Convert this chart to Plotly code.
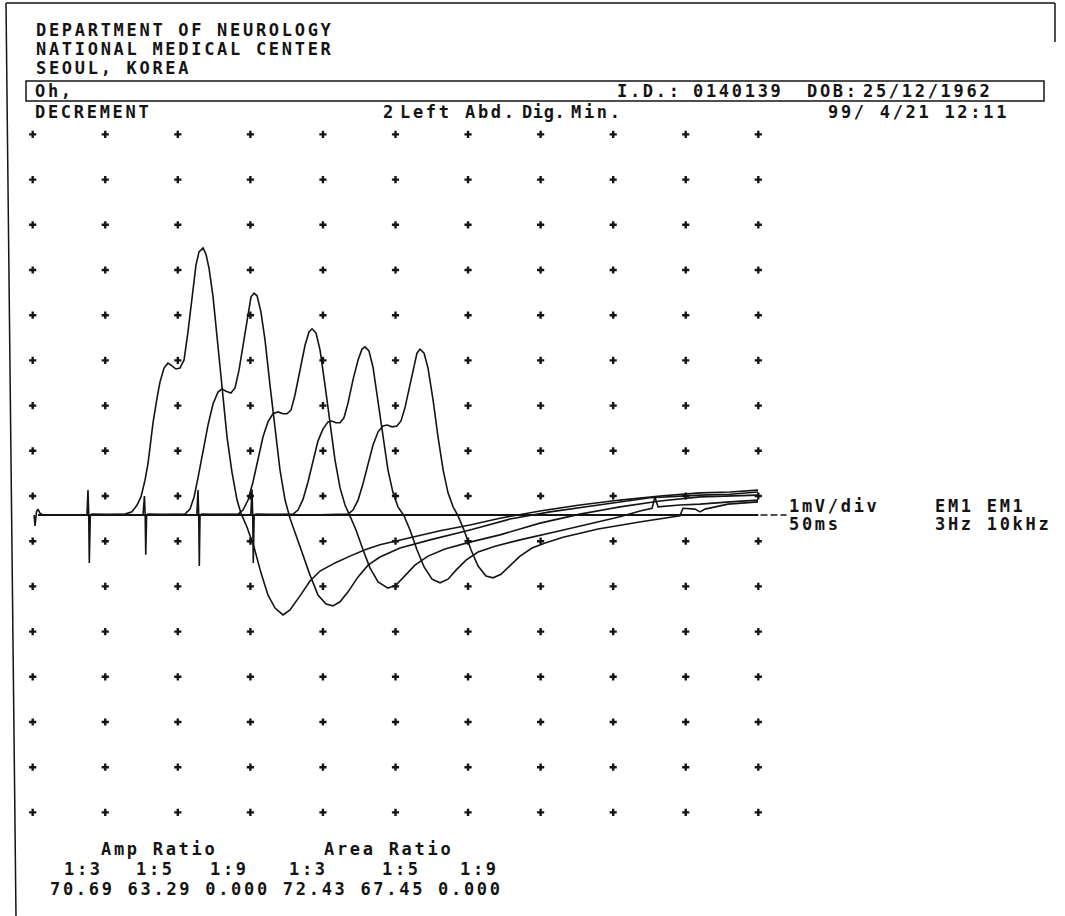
import plotly.graph_objects as go

# ---------------- data ----------------
# sweep: 10 div x 5 ms ; sensitivity 1 mV/div
SWEEP_MS = 50
DIV_MS = 5
DIV_MV = 1
N_COLS = 11
N_ROWS = 16
ROW_TOP_MV = 8.42          # level of top row of grid crosses relative to baseline

# Five superimposed CMAP responses (3 Hz repetitive stimulation), time in ms, amplitude in mV
t1 = [0.10, 0.16, 0.26, 0.36, 0.50, 0.71, 4.64, 6.36, 6.84, 7.19, 7.46, 7.74, 7.95,
      8.29, 8.57, 8.77, 9.05, 9.32, 9.60, 9.87, 10.15, 10.43, 10.70, 10.98, 11.25, 11.46, 11.74,
      11.94, 12.15, 12.43, 12.77, 13.04, 13.39, 13.73, 14.08, 14.35, 14.77, 15.25, 15.73, 16.21, 16.70,
      17.25, 17.73, 18.42, 19.11, 19.80, 20.83, 21.86, 22.90, 23.93, 26.00, 28.07, 30.13, 32.20, 34.96,
      37.71, 40.47, 43.23, 45.98, 48.05, 49.98]
v1 = [0, -0.24, 0.07, 0.13, 0.04, 0, 0, 0.02, 0.07, 0.22, 0.40, 0.77, 1.15,
      2.04, 2.59, 2.94, 3.25, 3.36, 3.30, 3.23, 3.25, 3.43, 4.05, 4.82, 5.53, 5.82, 5.91,
      5.77, 5.46, 4.82, 3.72, 2.76, 1.73, 0.95, 0.33, 0.04, -0.27, -0.71, -1.28, -1.77, -2.06,
      -2.21, -2.10, -1.79, -1.46, -1.24, -1.06, -0.91, -0.77, -0.66, -0.51, -0.35, -0.22, -0.07, 0.09,
      0.22, 0.33, 0.42, 0.49, 0.51, 0.55]

t2 = [3.74, 3.81, 3.86, 3.90, 3.97, 4.09, 8.08, 10.49, 10.84, 11.12, 11.39, 11.74, 12.08,
      12.43, 12.77, 13.04, 13.32, 13.66, 13.94, 14.22, 14.56, 14.84, 15.04, 15.25, 15.46, 15.73, 16.01,
      16.35, 16.70, 17.04, 17.39, 17.73, 18.07, 18.56, 19.11, 19.66, 20.21, 20.69, 21.18, 21.73, 22.42,
      23.11, 23.93, 25.31, 27.38, 30.13, 32.89, 35.65, 39.09, 42.54, 45.98, 48.05, 49.98]
v2 = [0, 0.55, 0, -1.06, 0, 0.02, 0, 0.02, 0.13, 0.40, 0.82, 1.44, 1.99,
      2.46, 2.72, 2.79, 2.74, 2.70, 2.81, 3.21, 3.87, 4.49, 4.82, 4.91, 4.85, 4.49, 3.87,
      2.88, 1.88, 1.00, 0.33, -0.07, -0.38, -0.82, -1.33, -1.77, -1.97, -2.01, -1.92, -1.70, -1.37,
      -1.11, -0.93, -0.73, -0.55, -0.33, -0.09, 0.07, 0.22, 0.38, 0.44, 0.46, 0.51]

t3 = [7.60, 7.70, 7.75, 7.79, 7.85, 7.95, 11.54, 14.15, 14.49, 14.84, 15.18, 15.53, 15.87,
      16.21, 16.56, 16.90, 17.25, 17.52, 17.80, 18.07, 18.42, 18.77, 19.04, 19.25, 19.52, 19.80, 20.14,
      20.49, 20.83, 21.18, 21.52, 21.86, 22.28, 22.76, 23.24, 23.80, 24.48, 25.04, 25.65, 26.34, 27.24,
      28.41, 30.13, 32.20, 34.96, 37.71, 40.47, 43.23, 45.98, 48.05, 49.98]
v3 = [0, 0.42, 0, -0.88, 0, 0.02, 0, 0.02, 0.11, 0.33, 0.73, 1.26, 1.73,
      2.06, 2.24, 2.28, 2.24, 2.24, 2.32, 2.65, 3.21, 3.76, 4.05, 4.12, 4.03, 3.65, 2.88,
      1.99, 1.22, 0.60, 0.22, -0.02, -0.33, -0.77, -1.17, -1.48, -1.62, -1.55, -1.35, -1.11, -0.91,
      -0.75, -0.60, -0.44, -0.18, 0.02, 0.18, 0.31, 0.40, 0.42, 0.44]

t4 = [11.31, 11.39, 11.44, 11.48, 11.53, 11.66, 15.66, 17.94, 18.28, 18.63, 18.97, 19.32, 19.66,
      20.00, 20.35, 20.62, 20.90, 21.18, 21.45, 21.73, 22.07, 22.42, 22.69, 22.90, 23.17, 23.45, 23.79,
      24.14, 24.48, 24.83, 25.17, 25.59, 26.00, 26.48, 26.97, 27.52, 28.07, 28.62, 29.17, 29.86, 30.69,
      31.86, 33.58, 36.34, 39.09, 40.47, 41.85, 42.68, 42.88, 43.09, 44.60, 45.98, 48.05, 49.98]
v4 = [0, 0.55, 0, -1.13, 0, 0.02, 0, 0.02, 0.11, 0.35, 0.73, 1.19, 1.64,
      1.90, 2.06, 2.08, 2.04, 2.04, 2.15, 2.48, 2.99, 3.43, 3.67, 3.72, 3.63, 3.27, 2.54,
      1.73, 1.00, 0.49, 0.18, -0.02, -0.33, -0.77, -1.15, -1.42, -1.50, -1.42, -1.22, -1.00, -0.82,
      -0.69, -0.55, -0.35, -0.15, -0.04, 0.09, 0.15, 0.40, 0.18, 0.22, 0.24, 0.29, 0.33]

t5 = [15.03, 15.11, 15.16, 15.20, 15.26, 15.39, 19.11, 21.73, 22.07, 22.42, 22.76, 23.11, 23.45,
      23.80, 24.14, 24.42, 24.76, 25.10, 25.38, 25.65, 26.00, 26.28, 26.48, 26.69, 26.97, 27.24, 27.59,
      27.93, 28.28, 28.62, 28.97, 29.31, 29.72, 30.20, 30.69, 31.24, 31.72, 32.27, 32.89, 33.58, 34.41,
      35.31, 36.55, 38.96, 41.92, 44.33, 44.60, 44.81, 45.64, 45.98, 46.33, 47.91, 49.98]
v5 = [0, 0.57, 0, -1.06, 0, 0.02, 0, 0.02, 0.11, 0.33, 0.69, 1.15, 1.55,
      1.84, 1.97, 1.99, 1.95, 1.97, 2.08, 2.37, 2.88, 3.34, 3.58, 3.67, 3.58, 3.25, 2.54,
      1.73, 1.00, 0.49, 0.18, -0.02, -0.33, -0.77, -1.13, -1.35, -1.39, -1.31, -1.11, -0.91, -0.73,
      -0.62, -0.49, -0.31, -0.15, -0.04, -0.02, 0.15, 0.13, 0.07, 0.13, 0.24, 0.29]

TRACES_T = [t1, t2, t3, t4, t5]
TRACES_V = [v1, v2, v3, v4, v5]

ratio_labels = ["1:3", "1:5", "1:9", "1:3", "1:5", "1:9"]
amp_ratio_values = ["70.69", "63.29", "0.000"]
area_ratio_values = ["72.43", "67.45", "0.000"]

# ---------------- figure ----------------
W, H = 1065, 916
INK = "#141414"
FONT = "DejaVu Sans Mono"

fig = go.Figure()

# grid of crosses (one per division)
gx, gy = [], []
for r in range(N_ROWS):
    for c in range(N_COLS):
        gx.append(c * DIV_MS)
        gy.append(ROW_TOP_MV - r * DIV_MV)
fig.add_trace(go.Scatter(x=gx, y=gy, mode="markers",
                         marker=dict(symbol="cross", size=6, color=INK, line=dict(width=0)),
                         hoverinfo="skip"))

# baseline reference and its dashed marker to the right
fig.add_trace(go.Scatter(x=[0.36, SWEEP_MS], y=[0, 0], mode="lines",
                         line=dict(color=INK, width=1.8), hoverinfo="skip"))
fig.add_trace(go.Scatter(x=[SWEEP_MS + 0.15, SWEEP_MS + 1.95], y=[0, 0], mode="lines",
                         line=dict(color=INK, width=1.4, dash="7px,3px"), hoverinfo="skip"))

for tt, vv in zip(TRACES_T, TRACES_V):
    fig.add_trace(go.Scatter(x=tt, y=vv, mode="lines",
                             line=dict(color=INK, width=1.6), hoverinfo="skip"))

# axis ranges so that 1 div = 72.6 px horizontally, 45.2 px vertically
PX_PER_MS = 72.56 / DIV_MS
PX_PER_MV = 45.2 / DIV_MV
X0_PX, BASE_PX = 32.7, 515.0
xr = [-X0_PX / PX_PER_MS, (W - X0_PX) / PX_PER_MS]
yr = [-(H - BASE_PX) / PX_PER_MV, BASE_PX / PX_PER_MV]


def P(x, y):
    return x / W, 1 - y / H


def label(text, x, y, ls=2.7, size=17):
    px_, py_ = P(x, y)
    fig.add_annotation(
        text='<span style="letter-spacing:%.1fpx"><b>%s</b></span>' % (ls, text),
        x=px_, y=py_, xref="paper", yref="paper", xanchor="left", yanchor="middle",
        showarrow=False, borderpad=0,
        font=dict(family=FONT, size=size, color=INK))


# header
label("DEPARTMENT OF NEUROLOGY", 35, 30)
label("NATIONAL MEDICAL CENTER", 35, 49)
label("SEOUL, KOREA", 35, 68)
label("Oh,", 34, 91)
label("I.D.:", 616, 91)
label("0140139", 692, 91)
label("DOB:", 806, 91)
label("25/12/1962", 862, 91)
label("DECREMENT", 34, 112)
label("2", 382, 112)
label("Left", 399, 112)
label("Abd.", 464, 112)
label("Dig.", 521, 112, ls=0.6)
label("Min.", 570, 112)
label("99/ 4/21 12:11", 827, 112)

# right side settings
label("1mV/div", 788, 506)
label("50ms", 788, 524)
label("EM1 EM1", 934, 506)
label("3Hz 10kHz", 934, 524)

# bottom ratios
label("Amp Ratio", 100, 849)
label("Area Ratio", 323, 849)
for lab, xx in zip(ratio_labels, [63, 135, 209, 288, 381, 459]):
    label(lab, xx, 869)
label(" ".join(amp_ratio_values + area_ratio_values), 49, 889)

# page border and patient box
def seg(x0, y0, x1, y1, w=1.5):
    a0, b0 = P(x0, y0)
    a1, b1 = P(x1, y1)
    fig.add_shape(type="line", x0=a0, y0=b0, x1=a1, y1=b1, xref="paper", yref="paper",
                  line=dict(color=INK, width=w))

seg(6, 3, 1055, 3)
seg(6, 3, 16, 916)
seg(1055, 3, 1055, 42)
bx0, by0 = P(26, 81)
bx1, by1 = P(1044, 101)
fig.add_shape(type="rect", x0=bx0, y0=by1, x1=bx1, y1=by0, xref="paper", yref="paper",
              line=dict(color=INK, width=1.5))

fig.update_layout(
    width=W, height=H, autosize=False,
    margin=dict(l=0, r=0, t=0, b=0),
    paper_bgcolor="white", plot_bgcolor="white",
    showlegend=False,
    xaxis=dict(range=xr, visible=False, fixedrange=True),
    yaxis=dict(range=yr, visible=False, fixedrange=True),
)

# remove the browser's default page margin so the figure sits at the window origin
fig.write_html(
    "out.html",
    config={"displayModeBar": False},
    post_script="document.body.style.margin='0';document.body.style.padding='0';"
                "document.documentElement.style.overflow='hidden';",
)
